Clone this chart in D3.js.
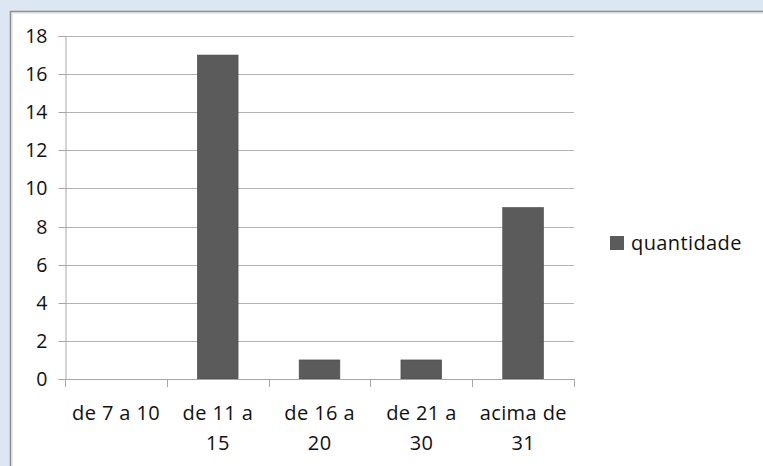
<!DOCTYPE html>
<html>
<head>
<meta charset="utf-8">
<script src="https://cdn.jsdelivr.net/npm/d3@7"></script>
<style>
  html, body { margin: 0; padding: 0; background: #dce7f3; }
  svg { display: block; }
</style>
</head>
<body>
<svg id="chart" width="763" height="466"></svg>
<script>
// Age ranges and how many fall into each
const categories = [["de 7 a 10"], ["de 11 a", "15"], ["de 16 a", "20"], ["de 21 a", "30"], ["acima de", "31"]];
const quantidade = [0, 17, 1, 1, 9];
const yTicks = [0, 2, 4, 6, 8, 10, 12, 14, 16, 18];
const seriesName = "quantidade";

const svg = d3.select("#chart");
const W = 763, H = 466;
const font = "'Open Sans', sans-serif";
const fontSize = 20;
const spacing = 0.4;
const weight = 500;
const ink = "#111111";

// white chart panel with a grey frame
svg.append("rect").attr("x", 10).attr("y", 12).attr("width", W).attr("height", H)
  .attr("fill", "#ffffff");
svg.append("path").attr("d", `M10.5,${H} V11.5 H${W}`)
  .attr("fill", "none").attr("stroke", "#8c8c8c").attr("stroke-width", 1.5);
svg.append("path").attr("d", `M12,${H} V13 H${W}`)
  .attr("fill", "none").attr("stroke", "#d4d4d4").attr("stroke-width", 1);

const plotL = 65, plotR = 574, plotT = 36, plotB = 379;

const x = d3.scaleBand().domain(d3.range(categories.length)).range([plotL, plotR])
  .paddingInner(0.6).paddingOuter(0.3);
const y = d3.scaleLinear().domain([0, 18]).range([plotB, plotT]);

// horizontal gridlines
svg.append("g").selectAll("line").data(yTicks.filter(d => d > 0)).join("line")
  .attr("x1", plotL).attr("x2", plotR)
  .attr("y1", d => Math.round(y(d)) + 0.5).attr("y2", d => Math.round(y(d)) + 0.5)
  .attr("stroke", "#b3b3b3").attr("stroke-width", 1);

// y axis
const yAxis = svg.append("g").attr("transform", `translate(${plotL + 0.5},0)`)
  .call(d3.axisLeft(y).tickValues(yTicks).tickSize(7).tickPadding(11).tickFormat(d3.format("d")));
yAxis.select(".domain").attr("stroke", "#a6a6a6");
yAxis.selectAll(".tick line").attr("stroke", "#a6a6a6");
yAxis.selectAll(".tick").attr("transform", d => `translate(0,${Math.round(y(d)) + 0.5})`);
yAxis.selectAll("text").attr("font-family", font).attr("font-size", 19.5)
  .attr("font-weight", weight).attr("fill", ink).attr("dy", "0.35em");

// bars
svg.append("g").selectAll("rect").data(quantidade).join("rect")
  .attr("x", (d, i) => x(i))
  .attr("width", x.bandwidth())
  .attr("y", d => y(d))
  .attr("height", d => y(0) - y(d))
  .attr("fill", "#5b5b5b")
  .attr("stroke", "#4a4a4a").attr("stroke-width", 0.6);

// x axis baseline and category separators
const xEdges = d3.range(categories.length + 1).map(i => plotL + i * (plotR - plotL) / categories.length);
const xAxis = svg.append("g");
xAxis.append("line").attr("x1", plotL).attr("x2", plotR)
  .attr("y1", Math.round(y(0)) + 0.5).attr("y2", Math.round(y(0)) + 0.5)
  .attr("stroke", "#a6a6a6");
xAxis.selectAll("line.sep").data(xEdges).join("line").attr("class", "sep")
  .attr("x1", d => Math.round(d) + 0.5).attr("x2", d => Math.round(d) + 0.5)
  .attr("y1", Math.round(y(0))).attr("y2", Math.round(y(0)) + 8)
  .attr("stroke", "#a6a6a6");

// category labels (wrapped on two lines)
const labels = svg.append("g").selectAll("text").data(categories).join("text")
  .attr("font-family", font).attr("font-size", fontSize).attr("font-weight", weight)
  .attr("fill", ink).attr("letter-spacing", spacing)
  .attr("text-anchor", "middle");
labels.each(function(lines, i) {
  const t = d3.select(this);
  lines.forEach((ln, k) => {
    t.append("tspan").attr("x", x(i) + x.bandwidth() / 2 + spacing / 2)
      .attr("y", 420 + k * 30).text(ln);
  });
});

// legend
svg.append("rect").attr("x", 610).attr("y", 236).attr("width", 14).attr("height", 14)
  .attr("fill", "#5b5b5b");
svg.append("text").attr("x", 631).attr("y", 250)
  .attr("font-family", font).attr("font-size", fontSize).attr("font-weight", weight)
  .attr("fill", ink).attr("letter-spacing", spacing)
  .text(seriesName);
</script>
</body>
</html>
